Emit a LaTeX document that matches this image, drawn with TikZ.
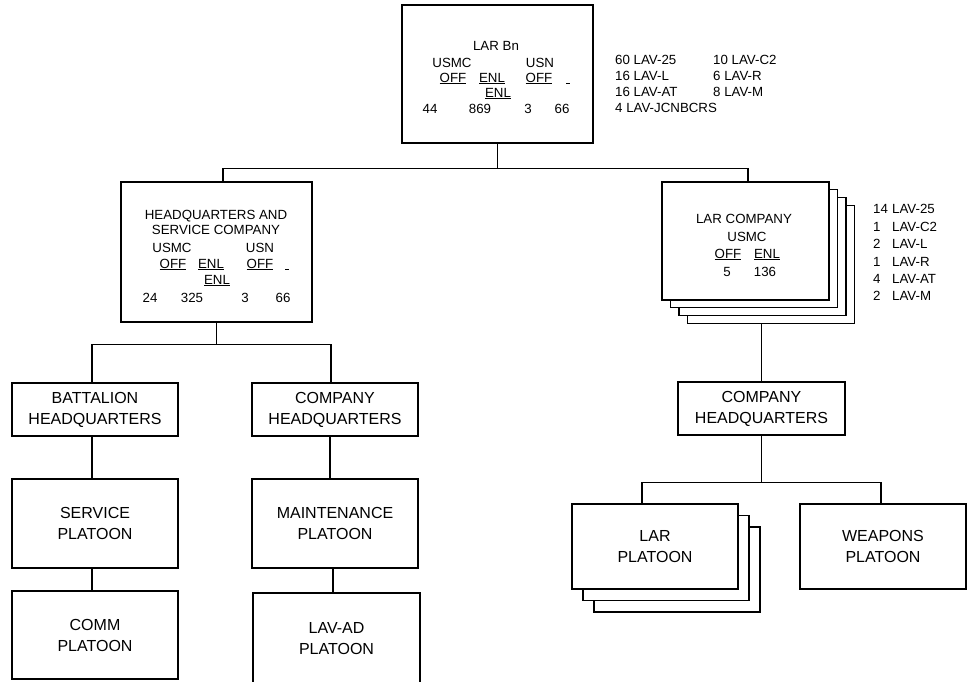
\documentclass[tikz,border=0pt]{standalone}
\usepackage{fontspec}
\setmainfont{Liberation Sans}
\begin{document}
\begin{tikzpicture}[x=1pt, y=-1pt,
    unit/.style={draw, line width=1.2pt, fill=white, inner sep=0pt, align=center, minimum width=166pt, font=\fontsize{16}{21}\selectfont},
    small/.style={inner sep=0pt, anchor=base, font=\fontsize{13.3}{16}\selectfont},
    link/.style={line width=1.2pt},
]
\useasboundingbox (0,0) rectangle (968,681);

% battalion
\node[unit, minimum width=191pt, minimum height=138pt] (bn) at (497.5,74) {};
\node[small] (bn-name) at (496,50) {LAR Bn};
\node[small] (bn-usmc) at (452,67) {USMC};
\node[small] (bn-usn) at (540,67) {USN};
\node[small] (bn-off) at (453,82) {\underline{OFF}};
\node[small] (bn-enl) at (492,82) {\underline{ENL}};
\node[small] (bn-noff) at (539,82) {\underline{OFF}};
\node[small] (bn-dash) at (568,82) {\underline{\hspace{4pt}}};
\node[small] (bn-nenl) at (498,97) {\underline{ENL}};
\node[small] (bn-n1) at (430,113) {44};
\node[small] (bn-n2) at (480,113) {869};
\node[small] (bn-n3) at (528,113) {3};
\node[small] (bn-n4) at (562,113) {66};
\node[small, anchor=base west] (bneq) at (615,64.8) {\begin{tabular}[t]{@{}p{98pt}@{}l@{}}
60 LAV-25 & 10 LAV-C2\\
16 LAV-L & 6 LAV-R\\
16 LAV-AT & 8 LAV-M\\
\multicolumn{2}{@{}l@{}}{4 LAV-JCNBCRS}
\end{tabular}};

% H&S company
\node[unit, minimum width=191pt, minimum height=140pt] (hqs) at (216.5,252) {};
\node[small] (hqs-name1) at (216,219) {HEADQUARTERS AND};
\node[small] (hqs-name2) at (216,234) {SERVICE COMPANY};
\node[small] (hqs-usmc) at (172,252) {USMC};
\node[small] (hqs-usn) at (260,252) {USN};
\node[small] (hqs-off) at (173,268) {\underline{OFF}};
\node[small] (hqs-enl) at (211,268) {\underline{ENL}};
\node[small] (hqs-noff) at (260,268) {\underline{OFF}};
\node[small] (hqs-dash) at (287,268) {\underline{\hspace{4pt}}};
\node[small] (hqs-nenl) at (217,284) {\underline{ENL}};
\node[small] (hqs-n1) at (150,302) {24};
\node[small] (hqs-n2) at (192,302) {325};
\node[small] (hqs-n3) at (245,302) {3};
\node[small] (hqs-n4) at (283,302) {66};

% LAR companies (stacked)
\node[unit, minimum width=167pt, minimum height=118pt] (lco3) at (771,264.1) {};
\node[unit, minimum width=167pt, minimum height=118pt] (lco2) at (762.5,256.4) {};
\node[unit, minimum width=167pt, minimum height=118pt] (lco1) at (754,248.7) {};
\node[unit, minimum width=167pt, minimum height=118pt] (lco) at (745.5,241) {};
\node[small] (lco-name) at (744,223) {LAR COMPANY};
\node[small] (lco-usmc) at (747,241) {USMC};
\node[small] (lco-off) at (728,258) {\underline{OFF}};
\node[small] (lco-enl) at (767,258) {\underline{ENL}};
\node[small] (lco-n1) at (727,276) {5};
\node[small] (lco-n2) at (765,276) {136};
\node[small, anchor=base west, font=\fontsize{13.3}{17.4}\selectfont] (lcoeq) at (873,213.8) {\begin{tabular}[t]{@{}l@{\hspace{4.2pt}}l@{}}
14 & LAV-25\\
1 & LAV-C2\\
2 & LAV-L\\
1 & LAV-R\\
4 & LAV-AT\\
2 & LAV-M
\end{tabular}};

% H&S subunits
\node[unit, minimum height=53pt] (bhq) at (95,409.5) {BATTALION\\HEADQUARTERS};
\node[unit, minimum height=53pt] (chq1) at (335,409.5) {COMPANY\\HEADQUARTERS};
\node[unit, minimum height=89pt] (svc) at (95,523.5) {SERVICE\\PLATOON};
\node[unit, minimum height=89pt] (mnt) at (335,523.5) {MAINTENANCE\\PLATOON};
\node[unit, minimum height=88pt] (comm) at (95,635) {COMM\\PLATOON};
\node[unit, minimum width=167pt, minimum height=92pt] (lavad) at (336.5,639) {LAV-AD\\PLATOON};

% LAR company subunits
\node[unit, minimum width=167pt, minimum height=53pt] (chq2) at (761.5,408.5) {COMPANY\\HEADQUARTERS};
\node[unit, minimum height=85pt] (lpl2) at (677,569.5) {};
\node[unit, minimum height=85pt] (lpl1) at (666,558) {};
\node[unit, minimum height=85pt] (lpl) at (655,546.5) {LAR\\PLATOON};
\node[unit, minimum height=85pt] (wpn) at (883,546.5) {WEAPONS\\PLATOON};

% connectors
\draw[link] (bn.south) -- ++(0,25) -| ([xshift=6.5pt]hqs.north);
\draw[link] (bn.south) -- ++(0,25) -| ([xshift=2.5pt]lco.north);
\draw[link] (hqs.south) -- ++(0,22) -| ([xshift=-3pt]bhq.north);
\draw[link] (hqs.south) -- ++(0,22) -| ([xshift=-4pt]chq1.north);
\draw[link] ([xshift=-3pt]bhq.south) -- ([xshift=-3pt]svc.north);
\draw[link] ([xshift=-3pt]svc.south) -- ([xshift=-3pt]comm.north);
\draw[link] ([xshift=-5pt]chq1.south) -- ([xshift=-5pt]mnt.north);
\draw[link] ([xshift=-2pt]mnt.south) -- ([xshift=-3.5pt]lavad.north);
\draw[link] (chq2.north) -- (chq2.north |- lco3.south);
\draw[link] (chq2.south) -- ++(0,47) -| ([xshift=-13pt]lpl.north);
\draw[link] (chq2.south) -- ++(0,47) -| ([xshift=-2pt]wpn.north);

\end{tikzpicture}
\end{document}
